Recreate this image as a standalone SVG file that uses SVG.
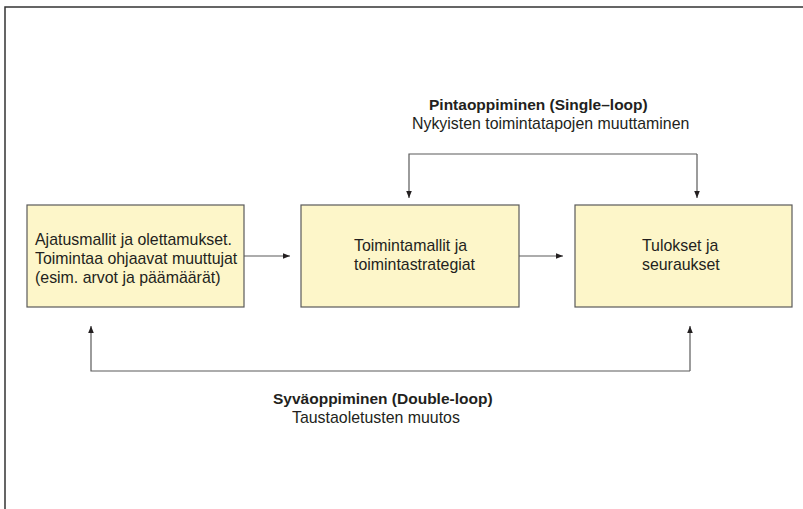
<svg xmlns="http://www.w3.org/2000/svg" width="803" height="509" viewBox="0 0 803 509">
  <style>
    .box { fill: #fdf6c9; stroke: #5a5a5a; stroke-width: 1.2; }
    .txt { font-family: "Liberation Sans", Arial, sans-serif; font-size: 15.9px; fill: #231f20; }
    .bold { font-weight: bold; font-size: 15.5px; }
    .wire { fill: none; stroke: #5a5a5a; stroke-width: 1.2; }
    .frame { fill: none; stroke: #333333; stroke-width: 1.5; }
  </style>
  <defs>
    <marker id="head" viewBox="0 0 8 8" refX="8" refY="4" markerWidth="7" markerHeight="7" markerUnits="userSpaceOnUse" orient="auto">
      <path d="M0,0.8 L8,4 L0,7.2 Z" fill="#231f20"/>
    </marker>
  </defs>

  <rect width="803" height="509" fill="#ffffff"/>
  <!-- page frame: top and left edges -->
  <path class="frame" d="M5,509 V7 H803"/>

  <!-- connectors -->
  <g id="connectors">
    <line class="wire" x1="244" y1="256" x2="290" y2="256" marker-end="url(#head)"/>
    <line class="wire" x1="519" y1="256" x2="563" y2="256" marker-end="url(#head)"/>
    <!-- single loop -->
    <path class="wire" d="M697,154 H409 V198" marker-end="url(#head)"/>
    <line class="wire" x1="697" y1="154" x2="697" y2="198" marker-end="url(#head)"/>
    <!-- double loop -->
    <path class="wire" d="M690,371 H91 V326" marker-end="url(#head)"/>
    <line class="wire" x1="690" y1="371" x2="690" y2="326" marker-end="url(#head)"/>
  </g>

  <g id="node-assumptions">
    <rect class="box" x="27" y="205" width="217" height="102"/>
    <text class="txt" x="35" y="245">Ajatusmallit ja olettamukset.</text>
    <text class="txt" x="35" y="264">Toimintaa ohjaavat muuttujat</text>
    <text class="txt" x="35" y="283">(esim. arvot ja päämäärät)</text>
  </g>

  <g id="node-strategies">
    <rect class="box" x="301" y="205" width="218" height="102"/>
    <text class="txt" x="354" y="251">Toimintamallit ja</text>
    <text class="txt" x="354" y="270">toimintastrategiat</text>
  </g>

  <g id="node-results">
    <rect class="box" x="575" y="205" width="217" height="102"/>
    <text class="txt" x="642" y="251">Tulokset ja</text>
    <text class="txt" x="642" y="270">seuraukset</text>
  </g>

  <g id="label-single-loop">
    <text class="txt bold" x="429" y="110">Pintaoppiminen (Single–loop)</text>
    <text class="txt" x="412" y="129">Nykyisten toimintatapojen muuttaminen</text>
  </g>

  <g id="label-double-loop">
    <text class="txt bold" x="273" y="404">Syväoppiminen (Double-loop)</text>
    <text class="txt" x="292" y="423">Taustaoletusten muutos</text>
  </g>
</svg>
